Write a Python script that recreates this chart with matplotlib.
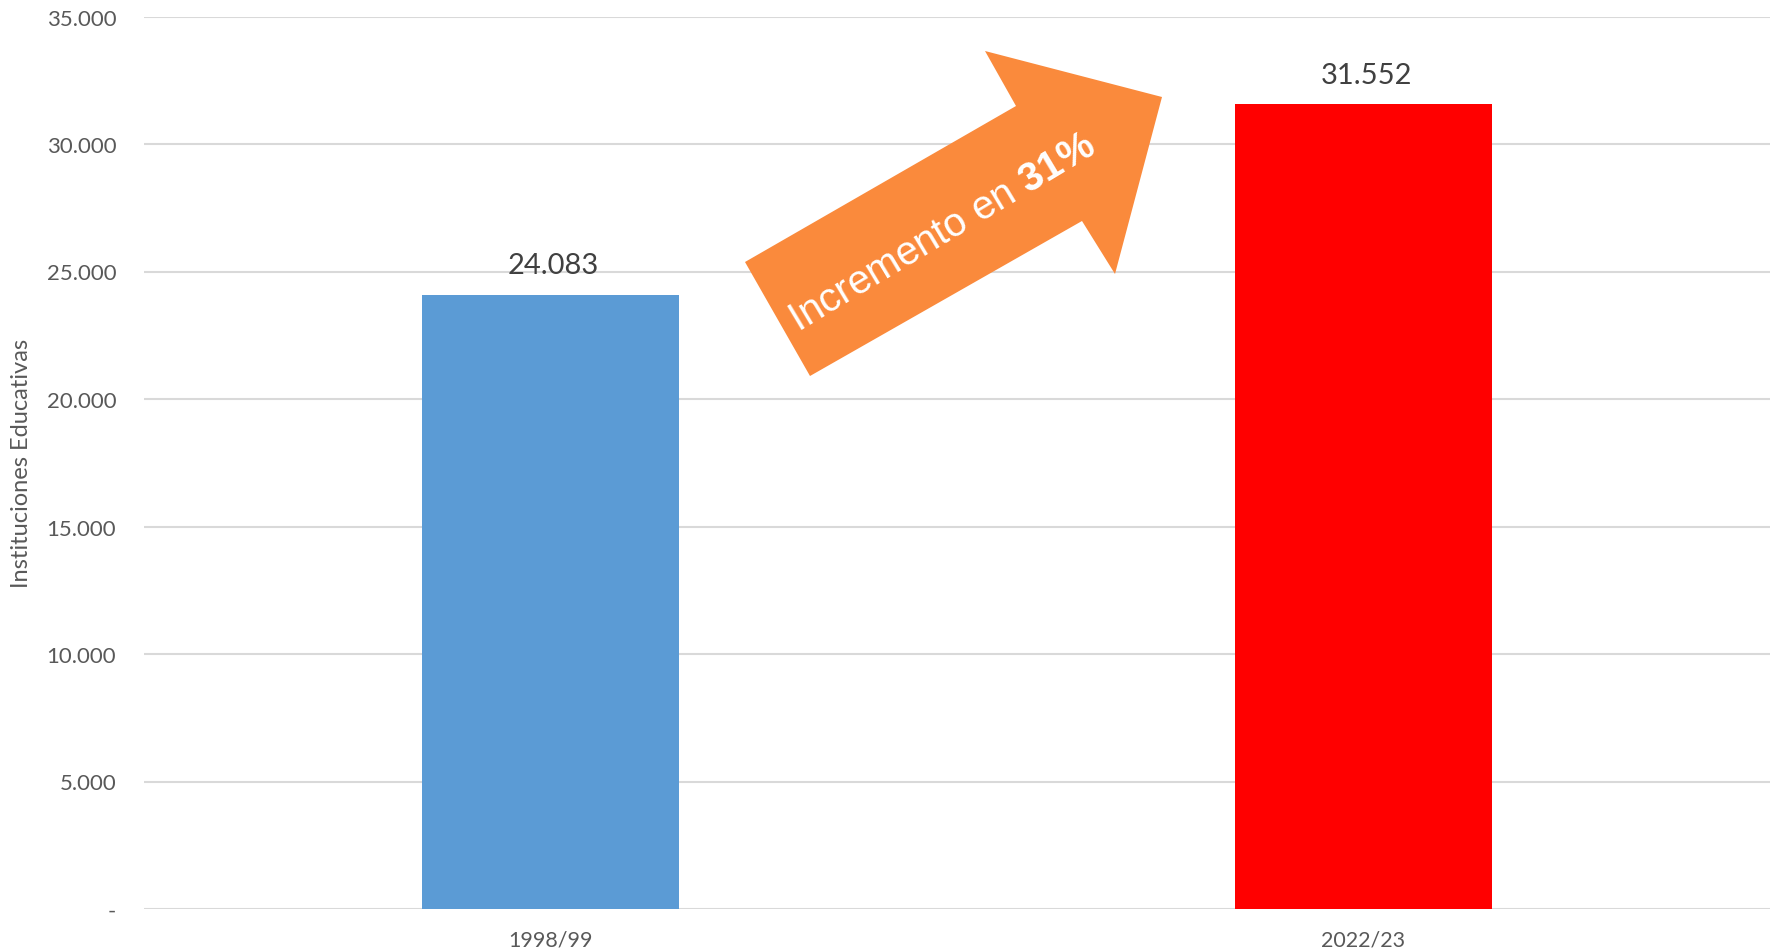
import matplotlib
matplotlib.use("Agg")
import matplotlib.pyplot as plt
from matplotlib.patches import Polygon
from matplotlib.ticker import FuncFormatter

plt.rcParams['font.family'] = ['Lato', 'DejaVu Sans']
plt.rcParams['mathtext.fontset'] = 'custom'
plt.rcParams['mathtext.rm'] = 'Liberation Sans'
plt.rcParams['mathtext.bf'] = 'Liberation Sans:bold'

# data
periodos = ['1998/99', '2022/23']
instituciones = [24083, 31552]
colores = ['#5B9BD5', '#FF0000']
y_ticks = [0, 5000, 10000, 15000, 20000, 25000, 30000, 35000]


def fmt_miles(v, pos=None):
    if v == 0:
        return '-'
    return '{:,.0f}'.format(v).replace(',', '.')


W, H = 1779, 953
fig = plt.figure(figsize=(W / 100, H / 100), dpi=100, facecolor='white')
ax = fig.add_axes([144 / W, 1 - 910 / H, (1770 - 144) / W, (910 - 17.5) / H])

x = range(len(periodos))
bars = ax.bar(x, instituciones, width=0.315, color=colores, zorder=3)
for b, v in zip(bars, instituciones):
    ax.annotate(fmt_miles(v), (b.get_x() + b.get_width() / 2, v),
                xytext=(2, 12), textcoords='offset points',
                ha='center', va='bottom', fontsize=21, color='#404040')

ax.set_xlim(-0.5, 1.5)
ax.set_ylim(0, 35000)
ax.set_yticks(y_ticks)
ax.yaxis.set_major_formatter(FuncFormatter(fmt_miles))
ax.set_xticks(list(x))
ax.set_xticklabels(periodos)
ax.tick_params(axis='y', length=0, labelsize=16, labelcolor='#595959', pad=20)
ax.tick_params(axis='x', length=0, labelsize=15.5, labelcolor='#595959', pad=15)
ax.grid(axis='y', color='#D9D9D9', lw=1.5, zorder=0)
for s in ax.spines.values():
    s.set_visible(False)
ax.set_ylabel('Instituciones Educativas', fontsize=17, color='#595959')
ax.yaxis.set_label_coords(-(144 - 32) / (1770 - 144), 0.5)

# flecha decorativa (pixeles de la figura)
flecha_px = [(745, 263), (1016, 107), (985, 52), (1162, 98),
             (1115, 275), (1082, 222), (810, 377)]
flecha = [(px / W, 1 - py / H) for px, py in flecha_px]
fig.patches.append(Polygon(flecha, closed=True, transform=fig.transFigure,
                           facecolor='#FA8A3C', edgecolor='none', zorder=5))
fig.text(942 / W, 1 - 233 / H, r'Incremento en $\mathbf{31\%}$',
         rotation=31, ha='center', va='center', fontsize=29,
         color='white', family='Liberation Sans', zorder=6)

fig.savefig('out.png', dpi=100)
